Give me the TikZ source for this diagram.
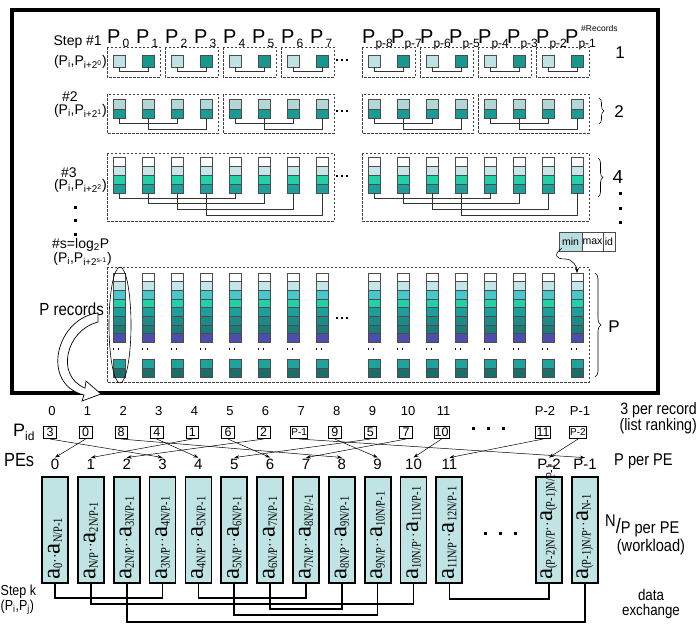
\documentclass[tikz,border=0pt]{standalone}
\usepackage{fontspec}
\setmainfont{Liberation Sans}
\newfontfamily\serf{Liberation Serif}
\newfontfamily\serfn[FakeStretch=0.8]{Liberation Serif}
\newfontfamily\narr[FakeStretch=0.86]{Liberation Sans}
\usetikzlibrary{arrows.meta,decorations.pathreplacing,calc}
\newcommand\fs[1]{\fontsize{#1}{#1}\selectfont}
\newcommand\lsub[1]{\raisebox{-4pt}{\fs{12}#1}}
\newcommand\bsub[1]{\raisebox{-2.5pt}{\serfn\fs{13}#1}}
\newcommand\barlab[2]{\serf\fs{25}a\bsub{#1}{\fs{14}··}a\bsub{#2}}
\newcommand\pij[1]{(P\textsubscript{i},P\textsubscript{i+2\textsuperscript{#1}})}
\definecolor{sqL}{HTML}{BFE2E2}
\definecolor{sqD}{HTML}{17988F}
\definecolor{cT}{HTML}{B3D7D7}
\definecolor{cB}{HTML}{1C9A94}
\definecolor{c1}{HTML}{FFFFFF}
\definecolor{c2}{HTML}{C4E6E8}
\definecolor{c3}{HTML}{46C8CC}
\definecolor{c4}{HTML}{22D2A6}
\definecolor{c5}{HTML}{1F9F9C}
\definecolor{c6}{HTML}{1C8A86}
\definecolor{c7}{HTML}{1D7C78}
\definecolor{c8}{HTML}{4D4DAD}
\definecolor{cb1}{HTML}{1FA19C}
\definecolor{cb2}{HTML}{1A6E6A}
\definecolor{barc}{HTML}{C0E4E4}
\definecolor{minc}{HTML}{B8E0E0}
\begin{document}
\begin{tikzpicture}[x=1pt,y=-1pt,
  cell/.style={draw=black!70, line width=0.5pt, minimum width=12pt, inner sep=0pt, outer sep=0pt},
  dbox/.style={draw=black!75, dash pattern=on 2.5pt off 1.5pt, line width=0.7pt},
  conn/.style={draw=black!80, line width=0.7pt},
  bar/.style={draw=black, line width=1.8pt, fill=barc, minimum width=26pt, minimum height=106pt, inner sep=0pt},
  pidbox/.style={draw=black, line width=0.6pt, fill=white, inner sep=0.8pt, minimum width=12.5pt, minimum height=12.5pt, font=\fs{12.5}},
  arr/.style={-{Stealth[length=5pt,width=3.5pt]}, line width=0.5pt},
  xconn/.style={line width=1.6pt},
  lab/.style={inner sep=0pt},
  mcell/.style={draw=black!70, line width=0.6pt, minimum height=19pt, inner sep=0pt, font=\fs{10.5}}]
\useasboundingbox (0,0) rectangle (697,624);

% ---------- frame ----------
\draw[line width=4pt] (12,10) rectangle (658,393);

% ---------- P labels ----------
\foreach \cx/\t [count=\i from 0] in {119/0,148/1,177/2,206/3,235/4,264/5,293/6,322/7}
  \node[lab, anchor=base west, font=\fs{20}] (pl-\i) at ({\cx-12},43) {P\hspace{2pt}\lsub{\t}};
\foreach \cx/\t [count=\i from 8] in {374/p-8,403/p-7,432/p-6,461/p-5,490/p-4,519/p-3,548/p-2,577/p-1}
  \node[lab, anchor=base west, font=\fs{20}] (pl-\i) at ({\cx-12},43) {P\lsub{\t}};
\node[lab, anchor=west, font=\fs{8.5}] (rec) at (581,28) {\#Records};

% ---------- row labels (left) ----------
\node[lab, anchor=east, font=\fs{14}] (st1) at (102,42) {Step \#1};
\node[lab, anchor=east, font=\fs{14}] (pr1) at (107,62) {\pij{0}};
\node[lab, font=\fs{14}] (st2) at (70,97) {\#2};
\node[lab, anchor=east, font=\fs{14}] (pr2) at (107,111) {\pij{1}};
\node[lab, font=\fs{14}] (st3) at (69,173) {\#3};
\node[lab, anchor=east, font=\fs{14}] (pr3) at (107,186) {\pij{2}};
\node[lab, anchor=west, font=\fs{14}] (sts) at (52,245) {\#s=log\textsubscript{2}P};
\node[lab, anchor=east, font=\fs{14}] (prs) at (112,259) {\pij{s-1}};
\node[lab, anchor=east, font=\narr\fs{17.5}] (prec) at (104,309) {P records};
\foreach \y in {206,219,233} \fill (74,\y) rectangle ++(2.5,2.5);

% ---------- row 1 ----------
\foreach \cx [count=\i from 0] in {119,148,177,206,235,264,293,322,374,403,432,461,490,519,548,577}{
  \ifodd\i\relax \def\fc{sqD}\else\def\fc{sqL}\fi
  \node[cell, minimum height=12pt, fill=\fc] (r1-\i) at (\cx,61) {};
}
\foreach \a/\b in {0/1,2/3,4/5,6/7,8/9,10/11,12/13,14/15}{
  \draw[conn] (r1-\a.south) -- ++(0,4) -| (r1-\b.south);
  \draw[dbox] ($(r1-\a.north west)+(-6,-8)$) rectangle ($(r1-\b.south east)+(6,10)$);
}
\node[lab, font=\fs{17}] (n1) at (620,53) {1};

% ---------- row 2 ----------
\foreach \cx [count=\i from 0] in {119,148,177,206,235,264,293,322,374,403,432,461,490,519,548,577}{
  \node[cell, minimum height=10pt, fill=cT] (r2t-\i) at (\cx,104) {};
  \node[cell, minimum height=9pt, fill=cB] (r2b-\i) at (\cx,113.5) {};
}
\foreach \a/\b/\d in {0/2/5,1/3/11,4/6/5,5/7/11,8/10/5,9/11/11,12/14/5,13/15/11}
  \draw[conn] (r2b-\a.south) -- ++(0,\d) -| (r2b-\b.south);
\foreach \a/\b in {0/3,4/7,8/11,12/15}
  \draw[dbox] ($(r2t-\a.north west)+(-6,-5)$) rectangle ($(r2b-\b.south east)+(6,15)$);
\draw[decorate, decoration={brace, amplitude=5pt}, line width=0.6pt] (599,98) -- (599,124);
\node[lab, font=\fs{17}] (n2) at (619,112) {2};

% ---------- row 3 ----------
\foreach \cx [count=\i from 0] in {119,148,177,206,235,264,293,322,374,403,432,461,490,519,548,577}{
  \foreach \c [count=\j from 1] in {c1,c2,c4,c5}
    \node[cell, minimum height=9pt, fill=\c] (r3-\i-\j) at (\cx,{157+9*(\j-0.5)}) {};
}
\foreach \a/\b/\d in {0/4/5,1/5/10,2/6/16,3/7/22,8/12/5,9/13/10,10/14/16,11/15/22}
  \draw[conn] (r3-\a-4.south) -- ++(0,\d) -| (r3-\b-4.south);
\foreach \a/\b in {0/7,8/15}
  \draw[dbox] ($(r3-\a-1.north west)+(-6,-4)$) rectangle ($(r3-\b-4.south east)+(6,28)$);
\draw[decorate, decoration={brace, amplitude=5pt}, line width=0.6pt] (598,158) -- (598,197);
\node[lab, font=\fs{19}] (n4) at (618,177) {4};
\foreach \y in {192,207,221} \fill (619,\y) rectangle ++(2.5,2.5);

% ---------- row s ----------
\foreach \cx [count=\i from 0] in {119,148,177,206,235,264,293,322,374,403,432,461,490,519,548,577}{
  \foreach \c [count=\j from 1] in {c1,c2,c3,c4,c5,c6,c7,c8}
    \node[cell, minimum height=8.625pt, fill=\c] (rs-\i-\j) at (\cx,{273+8.625*(\j-0.5)}) {};
  \node[cell, minimum height=9pt, fill=cb1] (rb-\i-1) at (\cx,363.5) {};
  \node[cell, minimum height=9pt, fill=cb2] (rb-\i-2) at (\cx,372.5) {};
  \fill ({\cx-6.5},348.2) rectangle ++(1.8,1.8);
  \fill ({\cx-1.5},348.2) rectangle ++(1.8,1.8);
}
\draw[dbox] ($(rs-0-1.north west)+(-6,-6)$) rectangle ($(rb-15-2.south east)+(6,5)$);
\draw[decorate, decoration={brace, amplitude=6pt}, line width=0.6pt] (595,273) -- (595,377);
\node[lab, font=\fs{17}] (nP) at (614,327) {P};
\draw[line width=0.6pt] (120,325) ellipse [x radius=11pt, y radius=58pt];

% dots between blocks
\foreach \y in {60,111,176,318} \foreach \x in {337,342,347} \fill ({\x-0.9},{\y-0.9}) rectangle ++(1.8,1.8);

% min max id
\node[mcell, fill=minc, minimum width=23pt] (mn) at (570.5,241.5) {min};
\node[mcell, fill=white, minimum width=21pt] (mx) at (592.5,241.5) {max};
\node[mcell, fill=white, minimum width=12pt] (idc) at (609,241.5) {id};
\draw[-{Stealth[length=5pt,width=4pt]}, line width=0.6pt] ($(mn.south west)+(3,-3)$) .. controls +(-8,6) and +(-10,0) .. (565,259) .. controls +(8,0) and +(0,-6) .. (rs-15-1.north);

% hollow curved arrow
\draw[fill=white, line width=0.7pt] (98,313) .. controls (56,318) and (40,384) .. (84,395) -- (82,401) -- (101,394) -- (86,381) -- (85,388) .. controls (55,376) and (66,330) .. (98,322) -- cycle;

% ---------- lower part ----------
\node[lab, anchor=west, font=\fs{18}] (pidl) at (13,432) {P\lsub{id}};
\node[lab, anchor=west, font=\narr\fs{19}] (pesl) at (4,460) {PEs};

\foreach \x/\t/\v [count=\i from 0] in {52/0/3, 87.6/1/0, 123.2/2/8, 158.8/3/4, 194.4/4/1, 230/5/6, 265.6/6/2, 301.2/7/{\fs{10}P-1}, 336.8/8/9, 372.4/9/5, 408/10/7, 443.6/11/10, 545/P-2/11, 580/P-1/{\fs{10}P-2}}{
  \node[font=\fs{13}, inner sep=0pt] (idx-\i) at (\x,411) {\t};
  \node[pidbox] (pid-\i) at ({\x-2},432.5) {\v};
}
\foreach \x in {472,487,502} \fill (\x,427) rectangle ++(2.5,2.5);

\foreach \x/\t [count=\i from 0] in {55/0, 90.85/1, 126.7/2, 162.55/3, 198.4/4, 234.25/5, 270.1/6, 305.95/7, 341.8/8, 377.65/9, 413.5/10, 449.35/11, 549/P-2, 585/P-1}{
  \node[font=\fs{15}, inner sep=1pt] (pe-\i) at (\x,464) {\t};
  \node[bar] (bar-\i) at (\x,530) {};
}
\foreach \a/\b in {0/3,1/0,2/8,3/4,4/1,5/6,6/2,7/13,8/9,9/5,10/7,11/10,12/11,13/12}
  \draw[arr] (pid-\a.south) -- (pe-\b.north);

\node[rotate=90, anchor=west, inner sep=0pt] (bt-0) at ($(bar-0.south)+(0,-4)$) {\barlab{0}{N/P-1}};
\node[rotate=90, anchor=west, inner sep=0pt] (bt-1) at ($(bar-1.south)+(0,-4)$) {\barlab{N/P}{2N/P-1}};
\node[rotate=90, anchor=west, inner sep=0pt] (bt-2) at ($(bar-2.south)+(0,-4)$) {\barlab{2N/P}{3N/P-1}};
\node[rotate=90, anchor=west, inner sep=0pt] (bt-3) at ($(bar-3.south)+(0,-4)$) {\barlab{3N/P}{4N/P-1}};
\node[rotate=90, anchor=west, inner sep=0pt] (bt-4) at ($(bar-4.south)+(0,-4)$) {\barlab{4N/P}{5N/P-1}};
\node[rotate=90, anchor=west, inner sep=0pt] (bt-5) at ($(bar-5.south)+(0,-4)$) {\barlab{5N/P}{6N/P-1}};
\node[rotate=90, anchor=west, inner sep=0pt] (bt-6) at ($(bar-6.south)+(0,-4)$) {\barlab{6N/P}{7N/P-1}};
\node[rotate=90, anchor=west, inner sep=0pt] (bt-7) at ($(bar-7.south)+(0,-4)$) {\barlab{7N/P}{8N/P/-1}};
\node[rotate=90, anchor=west, inner sep=0pt] (bt-8) at ($(bar-8.south)+(0,-4)$) {\barlab{8N/P}{9N/P-1}};
\node[rotate=90, anchor=west, inner sep=0pt] (bt-9) at ($(bar-9.south)+(0,-4)$) {\barlab{9N/P}{10N/P-1}};
\node[rotate=90, anchor=west, inner sep=0pt] (bt-10) at ($(bar-10.south)+(0,-4)$) {\barlab{10N/P}{11N/P-1}};
\node[rotate=90, anchor=west, inner sep=0pt] (bt-11) at ($(bar-11.south)+(0,-4)$) {\barlab{11N/P}{12N/P-1}};
\node[rotate=90, anchor=west, inner sep=0pt] (bt-12) at ($(bar-12.south)+(0,-4)$) {\barlab{(P-2)N/P}{(P-1)N/P-1}};
\node[rotate=90, anchor=west, inner sep=0pt] (bt-13) at ($(bar-13.south)+(0,-4)$) {\barlab{(P-1)N/P}{N-1}};
\foreach \x in {484,499,514} \fill (\x,532) rectangle ++(2.5,2.5);

\foreach \a/\b/\d in {0/3/14, 4/7/14, 1/10/20, 6/8/25, 5/9/31, 2/13/38, 11/12/15}
  \draw[xconn] (bar-\a.south) -- ++(0,\d) -| (bar-\b.south);

% ---------- right labels ----------
\node[lab, anchor=north east, align=right, font=\narr\fs{16.5}] (t3) at (697,402) {3 per record\\(list ranking)};
\node[lab, anchor=west, font=\narr\fs{17}] (tp) at (614,461) {P per PE};
\node[lab, anchor=west, font=\narr\fs{17}] (tn) at (605,526) {\raisebox{7pt}{N}{\fs{21}/}P per PE};
\node[lab, font=\narr\fs{17}] (tw) at (651,547) {(workload)};
\node[lab, align=center, font=\narr\fs{15.5}] (td) at (651,604) {data\\exchange};
\node[lab, anchor=west, align=left, font=\narr\fs{14.5}] (sk) at (0.5,600) {Step k\\(P\textsubscript{i},P\textsubscript{j})};
\end{tikzpicture}
\end{document}
